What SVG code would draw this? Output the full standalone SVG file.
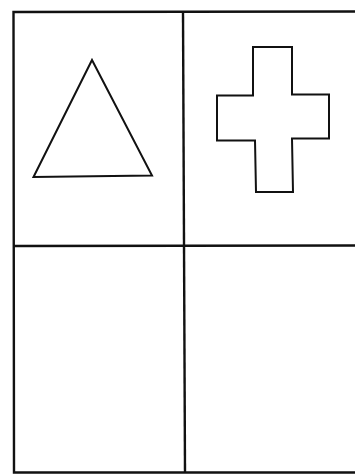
<svg xmlns="http://www.w3.org/2000/svg" width="355" height="474" viewBox="0 0 355 474">
<style>
.g{fill:none;stroke:#111;stroke-width:2.4}
.s{fill:none;stroke:#111;stroke-width:2;stroke-linejoin:miter}
</style>
<rect width="355" height="474" fill="#fff"/>
<g id="grid">
<polyline class="g" points="356,11.5 13.5,12 14,472.5 356,472.5"/>
<line class="g" x1="183" y1="12" x2="185" y2="472.5"/>
<line class="g" x1="14" y1="246" x2="356" y2="245.5"/>
</g>
<g id="triangle">
<polygon class="s" points="92,60 33.5,177 152,175.5"/>
</g>
<g id="cross">
<polygon class="s" points="253,47 292,47 292,94.5 329,94.5 329,138.5 292,138.5 293,192 256,192 255,140.5 217,140.5 217,95.5 253,95.5"/>
</g>
</svg>
